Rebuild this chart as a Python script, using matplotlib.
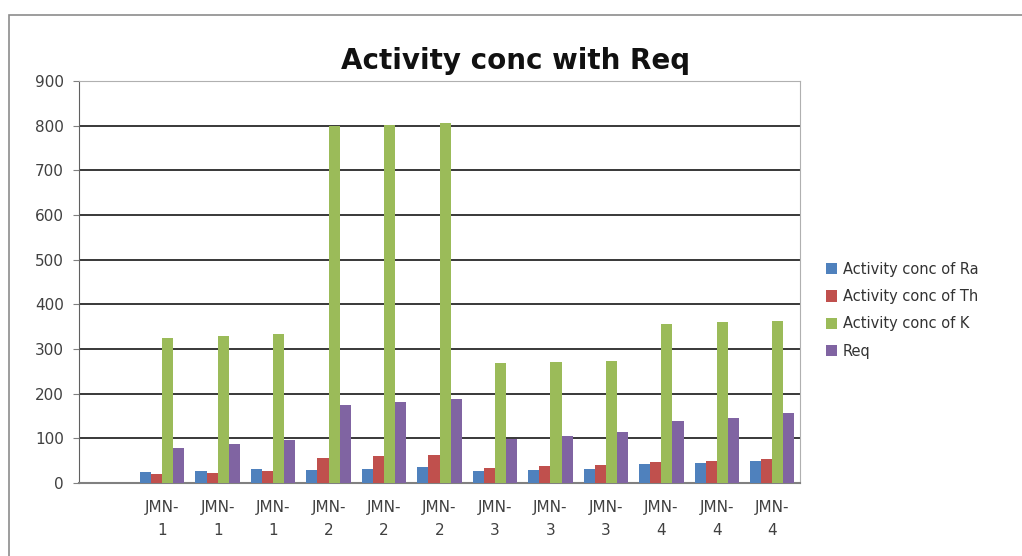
import numpy as np
import matplotlib.pyplot as plt
from matplotlib.patches import Rectangle

categories = ['JMN-\n1', 'JMN-\n1', 'JMN-\n1', 'JMN-\n2', 'JMN-\n2', 'JMN-\n2',
              'JMN-\n3', 'JMN-\n3', 'JMN-\n3', 'JMN-\n4', 'JMN-\n4', 'JMN-\n4']
ra = [25, 27, 31, 29, 32, 35, 26, 30, 31, 42, 45, 49]
th = [20, 22, 26, 57, 60, 63, 34, 39, 41, 47, 50, 54]
k = [325, 329, 333, 800, 802, 805, 269, 271, 273, 356, 360, 363]
req = [79, 87, 96, 175, 181, 189, 98, 105, 114, 138, 145, 156]

series = [
    ('Activity conc of Ra', ra, '#4F81BD'),
    ('Activity conc of Th', th, '#C0504D'),
    ('Activity conc of K', k, '#9BBB59'),
    ('Req', req, '#8064A2'),
]

fig = plt.figure(figsize=(10.22, 5.56), dpi=100)
fig.patches.append(Rectangle((9 / 1022, -0.1), 1.2, 1 - 15 / 556 + 0.1,
                             transform=fig.transFigure, fill=False,
                             edgecolor='#8c8c8c', linewidth=1.2))
ax = fig.add_axes([0.0773, 0.1313, 0.7055, 0.723])

x = np.arange(1, len(categories) + 1)
w = 0.2
for i, (name, vals, col) in enumerate(series):
    ax.bar(x + (i - 1.5) * w, vals, w, color=col, label=name, zorder=3)

ax.set_xlim(-0.5, len(categories) + 0.5)
ax.set_ylim(0, 900)
ax.set_yticks(range(0, 901, 100))
ax.set_xticks(x)
ax.set_xticklabels(categories, fontsize=11, color='#404040', linespacing=1.7)
ax.tick_params(axis='x', length=0, pad=12)
ax.tick_params(axis='y', labelsize=11, labelcolor='#404040', length=4,
               color='#808080', pad=7)
ax.yaxis.grid(True, color='#383838', linewidth=1.4, zorder=0)
for s in ['top', 'right']:
    ax.spines[s].set_color('#b0b0b0')
ax.spines['left'].set_color('#606060')
ax.spines['bottom'].set_color('#808080')
ax.spines['bottom'].set_linewidth(1.5)

fig.text(0.504, 0.89, 'Activity conc with Req', ha='center', va='center',
         fontsize=20, fontweight='bold', color='#111111')

fig.legend(loc='center left', bbox_to_anchor=(0.795, 0.442), frameon=False,
           fontsize=10.5, handlelength=0.8, handleheight=0.8, handletextpad=0.4,
           labelspacing=0.85, labelcolor='#333333')

fig.savefig('out.png', dpi=100)
